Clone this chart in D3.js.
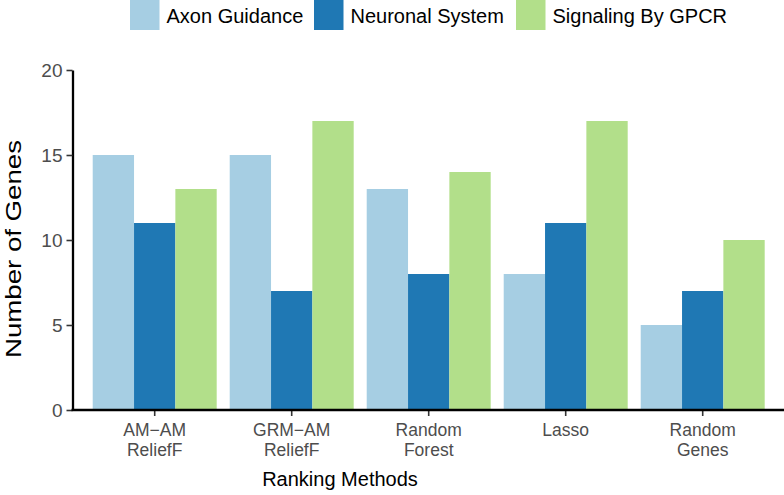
<!DOCTYPE html>
<html>
<head>
<meta charset="utf-8">
<script src="https://cdn.jsdelivr.net/npm/d3@7"></script>
<style>
  html, body { margin: 0; padding: 0; background: #fff; }
  svg { display: block; font-family: "Liberation Sans", Arial, Helvetica, sans-serif; }
</style>
</head>
<body>
<svg id="chart" width="784" height="495"></svg>
<script>
const categories = [["AM\u2212AM", "ReliefF"], ["GRM\u2212AM", "ReliefF"], ["Random", "Forest"], ["Lasso"], ["Random", "Genes"]];
const categoryKeys = ["AM-AM ReliefF", "GRM-AM ReliefF", "Random Forest", "Lasso", "Random Genes"];
const seriesNames = ["Axon Guidance", "Neuronal System", "Signaling By GPCR"];
const axonGuidance = [15, 15, 13, 8, 5];
const neuronalSystem = [11, 7, 8, 11, 7];
const signalingGPCR = [13, 17, 14, 17, 10];
const yTicks = [0, 5, 10, 15, 20];
const colors = ["#a6cee3", "#1f78b4", "#b2df8a"];

const seriesValues = [axonGuidance, neuronalSystem, signalingGPCR];
const svg = d3.select("#chart");

const x0 = d3.scaleBand().domain(categoryKeys).range([86.2, 771.2])
  .paddingInner(0.095).paddingOuter(0.0475);
const x1 = d3.scaleBand().domain(seriesNames).range([0, x0.bandwidth()]).padding(0);
const y = d3.scaleLinear().domain([0, 20]).range([410, 70]);
const color = d3.scaleOrdinal().domain(seriesNames).range(colors);

// bars
const groups = svg.append("g").selectAll("g")
  .data(categoryKeys).join("g")
  .attr("transform", d => `translate(${x0(d)},0)`);
groups.selectAll("rect")
  .data((d, i) => seriesNames.map((s, j) => ({ s, v: seriesValues[j][i] })))
  .join("rect")
  .attr("x", d => x1(d.s))
  .attr("width", x1.bandwidth())
  .attr("y", d => y(d.v))
  .attr("height", d => y(0) - y(d.v))
  .attr("fill", d => color(d.s));

// y axis
const yAxis = svg.append("g").attr("transform", "translate(72.5,0)")
  .call(d3.axisLeft(y).tickValues(yTicks).tickSize(6).tickPadding(4).tickSizeOuter(0));
yAxis.select(".domain").attr("stroke", "#000").attr("stroke-width", 2.3);
yAxis.selectAll(".tick line").attr("stroke", "#333").attr("stroke-width", 1.6);
yAxis.selectAll(".tick text").attr("fill", "#4d4d4d").attr("font-size", 19)
  .attr("font-family", "Liberation Sans, Arial, sans-serif");

// x axis
const xAxis = svg.append("g").attr("transform", "translate(0,410)")
  .call(d3.axisBottom(x0).tickSize(6).tickSizeOuter(0).tickFormat(""));
xAxis.select(".domain").remove();
xAxis.append("line").attr("x1", 71.5).attr("x2", 784).attr("y1", 0).attr("y2", 0)
  .attr("stroke", "#000").attr("stroke-width", 2.3);
xAxis.selectAll(".tick line").attr("stroke", "#333").attr("stroke-width", 1.6);
xAxis.selectAll(".tick").each(function(d, i) {
  categories[i].forEach((line, k) => {
    d3.select(this).append("text")
      .attr("fill", "#4d4d4d").attr("font-size", 17.5).attr("text-anchor", "middle")
      .attr("font-family", "Liberation Sans, Arial, sans-serif")
      .attr("x", 0).attr("y", 26 + k * 19.5).text(line);
  });
});

// axis titles
svg.append("text").attr("x", 340).attr("y", 486).attr("text-anchor", "middle")
  .attr("font-size", 20).attr("fill", "#000").text("Ranking Methods");
svg.append("text").attr("transform", "translate(21,249) rotate(-90)")
  .attr("text-anchor", "middle").attr("font-size", 22).attr("fill", "#000")
  .attr("textLength", 218).attr("lengthAdjust", "spacingAndGlyphs")
  .text("Number of Genes");

// legend
const legendX = [130, 314, 516];
const legend = svg.append("g").selectAll("g").data(seriesNames).join("g")
  .attr("transform", (d, i) => `translate(${legendX[i]},0)`);
legend.append("rect").attr("x", 0).attr("y", 0).attr("width", 29.5).attr("height", 30)
  .attr("fill", d => color(d));
legend.append("text").attr("x", 36.5).attr("y", 22.5).attr("font-size", 20)
  .attr("fill", "#000").text(d => d);
</script>
</body>
</html>
